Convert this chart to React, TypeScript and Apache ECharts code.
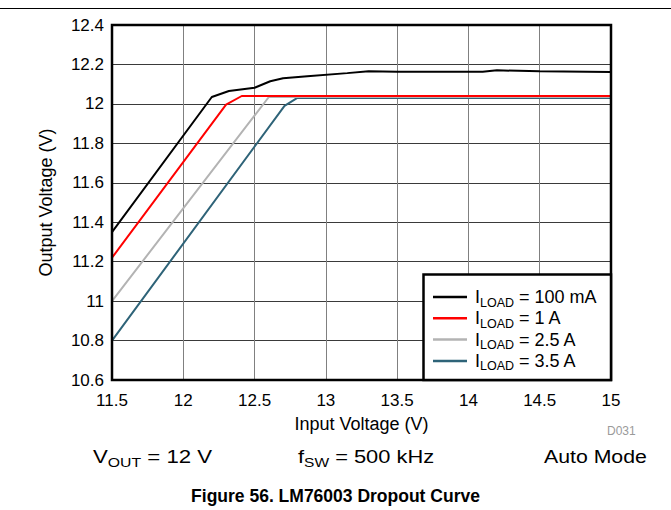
import React, { useEffect, useRef } from "react";
import * as echarts from "echarts";

const FONT = "'Liberation Sans', Arial, Helvetica, sans-serif";

const loadNames = ["100 mA", "1 A", "2.5 A", "3.5 A"];
const loadColors = ["#000000", "#ff0000", "#b3b3b3", "#2e6378"];

const vin100mA = [11.5, 12.2, 12.32, 12.5, 12.61, 12.7, 12.87, 13.15, 13.3, 13.5, 14.0, 14.1, 14.2, 14.5, 15.0];
const vout100mA = [11.35, 12.035, 12.065, 12.082, 12.115, 12.13, 12.14, 12.156, 12.165, 12.163, 12.163, 12.163, 12.17, 12.165, 12.162];

const vin1A = [11.5, 12.3, 12.41, 13.0, 14.0, 15.0];
const vout1A = [11.22, 11.996, 12.04, 12.04, 12.04, 12.04];

const vin2p5A = [11.5, 12.6, 13.0, 14.0, 15.0];
const vout2p5A = [11.0, 12.035, 12.035, 12.035, 12.035];

const vin3p5A = [11.5, 12.71, 12.8, 13.0, 14.0, 15.0];
const vout3p5A = [10.8, 11.99, 12.03, 12.03, 12.03, 12.03];

const xTicks = [11.5, 12, 12.5, 13, 13.5, 14, 14.5, 15];
const yTicks = [10.6, 10.8, 11, 11.2, 11.4, 11.6, 11.8, 12, 12.2, 12.4];

const seriesX = [vin100mA, vin1A, vin2p5A, vin3p5A];
const seriesY = [vout100mA, vout1A, vout2p5A, vout3p5A];

export default function App() {
  const ref = useRef<HTMLDivElement>(null);

  useEffect(() => {
    if (!ref.current) return;
    const chart = echarts.init(ref.current, null, { renderer: "svg" });
    const series = loadNames.map((name, i) => ({
      name,
      type: "line",
      data: seriesX[i].map((x, j) => [x, seriesY[i][j]]),
      symbol: "none",
      showSymbol: false,
      lineStyle: { color: loadColors[i], width: 2 },
      itemStyle: { color: loadColors[i] },
      z: 10 - i,
    }));

    const legendRich = {
      f: { fontFamily: FONT, fontSize: 18, color: "#000", lineHeight: 18, verticalAlign: "middle", padding: [0, 0, 0, 3] },
      i: { fontFamily: FONT, fontSize: 18, color: "#000", lineHeight: 18, verticalAlign: "middle" },
      s: { fontFamily: FONT, fontSize: 12.5, color: "#000", lineHeight: 12, verticalAlign: "bottom", padding: [0, 0, -3, 0] },
    };

    const bottomRich = {
      i: { fontFamily: FONT, fontSize: 19, fill: "#000", lineHeight: 20, verticalAlign: "middle" },
      s: { fontFamily: FONT, fontSize: 13.5, fill: "#000", lineHeight: 14, verticalAlign: "bottom", padding: [0, 0, -3, 0] },
    };

    chart.setOption({
      animation: false,
      backgroundColor: "#fff",
      grid: {
        left: 112,
        right: 60,
        top: 25,
        bottom: 130,
        show: true,
        borderColor: "#000",
        borderWidth: 2.5,
        z: 20,
      },
      xAxis: {
        type: "value",
        min: 11.5,
        max: 15,
        interval: 0.5,
        name: "Input Voltage (V)",
        nameLocation: "middle",
        nameGap: 35,
        nameTextStyle: { fontFamily: FONT, fontSize: 18, color: "#000" },
        axisLine: { show: false },
        axisTick: { show: false },
        axisLabel: {
          fontFamily: FONT,
          fontSize: 17,
          color: "#000",
          margin: 12,
          formatter: (v: number) => (xTicks.includes(v) ? String(v) : ""),
        },
        splitLine: { show: true, lineStyle: { color: "#808080", width: 1 } },
      },
      yAxis: {
        type: "value",
        min: 10.6,
        max: 12.4,
        interval: 0.2,
        name: "Output Voltage (V)",
        nameLocation: "middle",
        nameGap: 57,
        nameTextStyle: { fontFamily: FONT, fontSize: 18, color: "#000" },
        axisLine: { show: false },
        axisTick: { show: false },
        axisLabel: {
          fontFamily: FONT,
          fontSize: 17,
          color: "#000",
          margin: 8,
          formatter: (v: number) => {
            const r = Math.round(v * 10) / 10;
            return yTicks.some((t) => Math.abs(t - r) < 1e-6) ? String(r) : "";
          },
        },
        splitLine: { show: true, lineStyle: { color: "#3a3a3a", width: 1 } },
      },
      legend: {
        show: true,
        orient: "vertical",
        left: 423,
        top: 276,
        padding: [12, 10, 10, 10],
        itemGap: 0.3,
        itemWidth: 34,
        itemHeight: 2.5,
        z: 100,
        data: loadNames.map((n, i) => ({ name: n, icon: "rect", itemStyle: { color: loadColors[i] } })),
        formatter: (name: string) => `{f|I}{s|LOAD}{i| = ${name}}`,
        textStyle: { fontFamily: FONT, fontSize: 18, color: "#000", rich: legendRich },
      },
      graphic: [
        {
          type: "line",
          shape: { x1: 0, y1: 8.5, x2: 671, y2: 8.5 },
          style: { stroke: "#000", lineWidth: 1 },
        },
        {
          type: "rect",
          z: 50,
          shape: { x: 423.5, y: 274.5, width: 187.5, height: 105.5 },
          style: { fill: "#fff", stroke: "#000", lineWidth: 2.5 },
        },
        {
          type: "text",
          x: 607,
          y: 425,
          style: { text: "D031", fontFamily: FONT, fontSize: 12, fill: "#9a9a9a" },
        },
        {
          type: "text",
          x: 93,
          y: 446,
          scaleX: 1.17,
          style: { text: "{i|V}{s|OUT}{i| = 12 V}", fontFamily: FONT, fontSize: 19, fill: "#000", rich: bottomRich },
        },
        {
          type: "text",
          x: 298,
          y: 446,
          scaleX: 1.15,
          style: { text: "{i|f}{s|SW}{i| = 500 kHz}", fontFamily: FONT, fontSize: 19, fill: "#000", rich: bottomRich },
        },
        {
          type: "text",
          x: 544,
          y: 446,
          scaleX: 1.12,
          style: { text: "{i|Auto Mode}", fontFamily: FONT, fontSize: 19, fill: "#000", rich: bottomRich },
        },
        {
          type: "text",
          left: "center",
          top: 487,
          style: { text: "Figure 56. LM76003 Dropout Curve", fontFamily: FONT, fontSize: 17.5, fontWeight: "bold", fill: "#000" },
        },
      ],
      series,
    });
    return () => chart.dispose();
  }, []);

  return (
    <div
      ref={ref}
      style={{ position: "fixed", left: 0, top: 0, width: 671, height: 510, background: "#fff" }}
    />
  );
}
